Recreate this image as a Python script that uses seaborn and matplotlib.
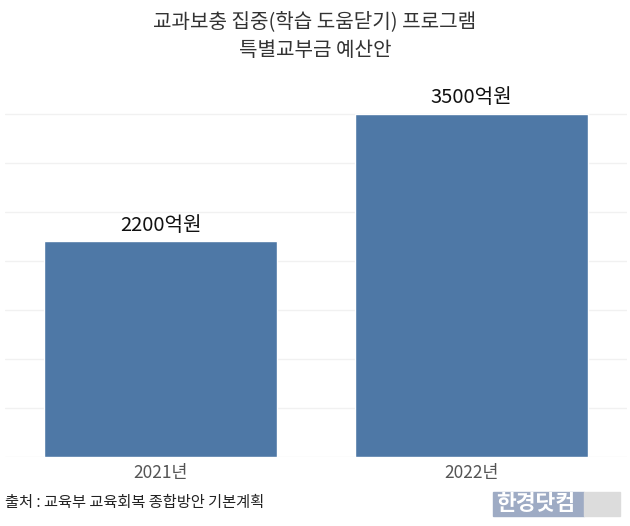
import matplotlib
matplotlib.use("Agg")
import matplotlib.pyplot as plt
import seaborn as sns
import pandas as pd
from matplotlib.patches import Rectangle

sns.set_theme(style="white")
plt.rcParams['font.family'] = ['Noto Sans CJK KR', 'DejaVu Sans']

years = ["2021년", "2022년"]
values = [2200, 3500]
bar_labels = ["2200억원", "3500억원"]
title_lines = ["교과보충 집중(학습 도움닫기) 프로그램", "특별교부금 예산안"]
source = "출처 : 교육부 교육회복 종합방안 기본계획"
logo = "한경닷컴"

df = pd.DataFrame({"year": years, "value": values})

fig = plt.figure(figsize=(6.30, 5.26), dpi=100)
ax = fig.add_axes([5/630, 1-457/526, 622/630, 357/526])
sns.barplot(data=df, x="year", y="value", color="#4e78a6", width=0.75,
            saturation=1, ax=ax, zorder=3)
ax.set_xlim(-0.5, 1.5)
ax.set_ylim(0, 3643)
ax.set_yticks(range(0, 3501, 500))
ax.yaxis.grid(True, color="#f1f1f1", linewidth=1, zorder=0)
ax.set_yticklabels([])
ax.tick_params(axis="y", length=0)
ax.tick_params(axis="x", length=0, labelsize=12.5, labelcolor="#555555", pad=5)
ax.set_xlabel("")
ax.set_ylabel("")
for s in ax.spines.values():
    s.set_visible(False)

for p, lab in zip(ax.patches, bar_labels):
    ax.annotate(lab, (p.get_x() + p.get_width()/2, p.get_height()),
                xytext=(0, 4), textcoords="offset points",
                ha="center", va="bottom", fontsize=14.5, color="#111111")

fig.text(0.5, 1-22/526, title_lines[0], ha="center", va="center", fontsize=14.5, color="#333333")
fig.text(0.5, 1-51/526, title_lines[1], ha="center", va="center", fontsize=14.5, color="#333333")
fig.text(5/630, 1-503/526, source, ha="left", va="center", fontsize=11, color="#222222")

fig.patches.append(Rectangle((493/630, 1-516/526), 91/630, 24/526,
                             transform=fig.transFigure, color="#9eabc4", zorder=1))
fig.patches.append(Rectangle((584/630, 1-516/526), 36/630, 24/526,
                             transform=fig.transFigure, color="#dcdcdc", zorder=1))
fig.text(536/630, 1-504/526, logo, ha="center", va="center", fontsize=15.5,
         color="white", fontweight="bold", zorder=2)

fig.savefig("out.png", dpi=100)
